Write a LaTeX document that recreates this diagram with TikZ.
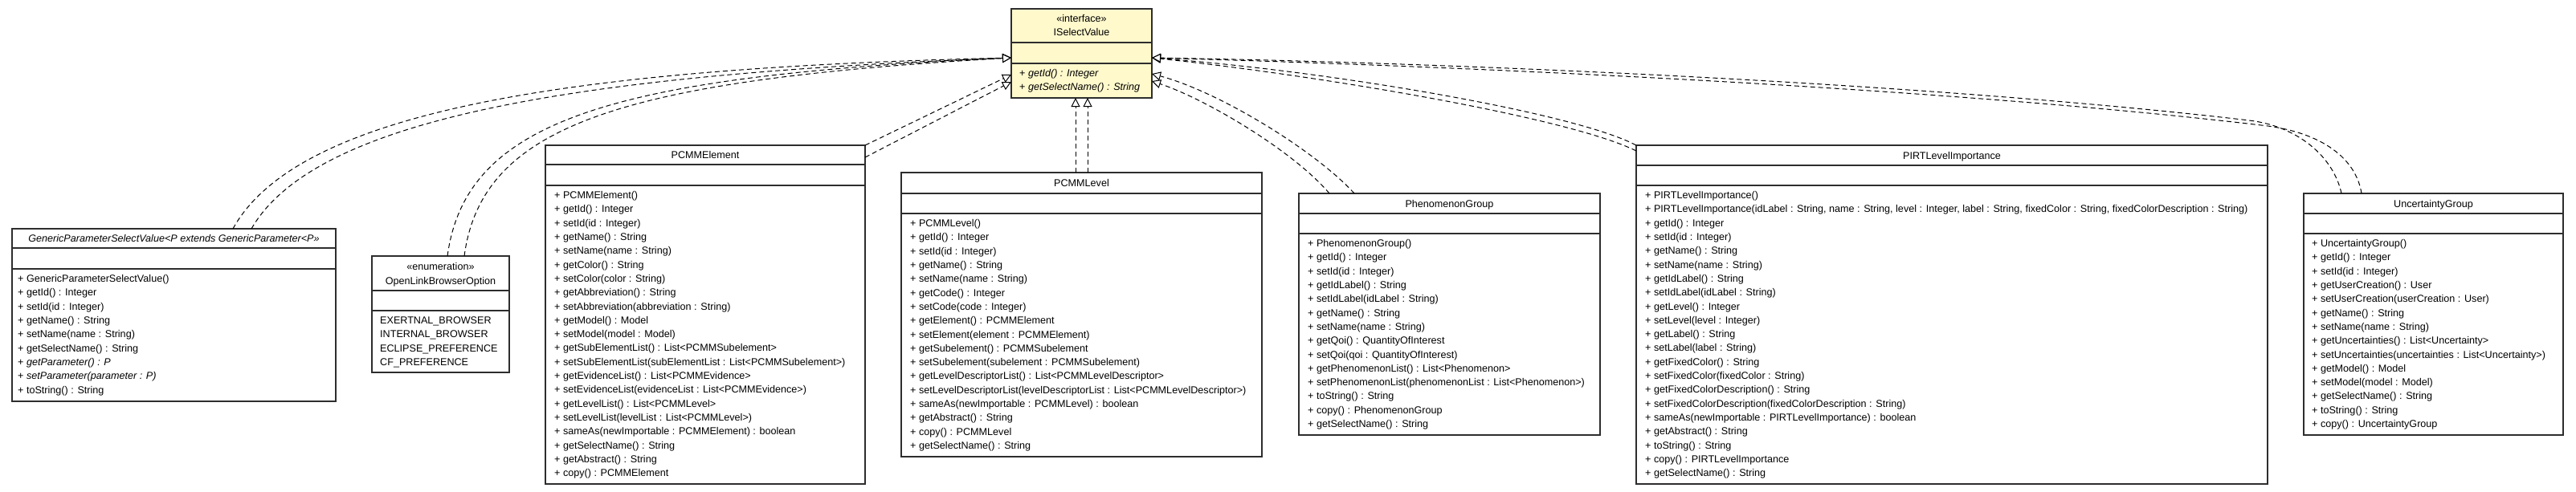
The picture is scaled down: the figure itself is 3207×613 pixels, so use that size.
\documentclass[tikz,border=0pt]{standalone}
\usepackage{fontspec}
\setmainfont{Liberation Sans}
\usetikzlibrary{arrows.meta}
\definecolor{ifill}{RGB}{255,249,204}
\definecolor{bord}{RGB}{45,45,45}
\tikzset{
 classbox/.style={draw=bord, line width=1.5pt, fill=white, anchor=north west, inner sep=0pt, outer sep=0pt},
 ifacebox/.style={classbox, fill=ifill},
 sepone/.style={draw=bord, line width=2pt},
 septwo/.style={draw=bord, line width=1.5pt},
 memb/.style={anchor=north west, align=left, inner sep=0pt, font=\fontsize{12.6}{17.3}\selectfont},
 hdr/.style={anchor=base, inner sep=0pt, font=\fontsize{12.6}{17.3}\selectfont},
 hdrtwo/.style={anchor=north, align=center, inner sep=0pt, font=\fontsize{12.6}{17.8}\selectfont},
 real/.style={draw=black, line width=1pt, dash pattern=on 6pt off 4pt, -{Triangle[length=11pt,width=11pt,fill=white]}},
}
\begin{document}
\begin{tikzpicture}[x=1pt,y=-1pt]
\fill[white] (0,0) rectangle (3207,613);
\useasboundingbox (0,0) rectangle (3207,613);

% ---------- ISelectValue ----------
\node[ifacebox, minimum width=175pt, minimum height=111pt] (isv) at (1259,11) {};
\draw[sepone] (1259,53) -- (1434,53);
\draw[septwo] (1259,79) -- (1434,79);
\node[hdrtwo] (isvh) at (1346.5,14.5) {\strut«interface»\\ISelectValue};
\node[memb] (isvm) at (1269,83.3) {\strut+ \textit{getId() : Integer}\\+ \textit{getSelectName() : String}};

% ---------- GenericParameterSelectValue ----------
\node[classbox, minimum width=403pt, minimum height=215pt] (gen) at (15,285) {};
\draw[sepone] (15,309) -- (418,309);
\draw[septwo] (15,335) -- (418,335);
\node[hdr] (genh) at (216.5,301.5) {\textit{GenericParameterSelectValue<P extends GenericParameter<P>>}};
\node[memb] (genm) at (22,339.3) {\strut+ GenericParameterSelectValue()\\
+ getId() : Integer\\
+ setId(id : Integer)\\
+ getName() : String\\
+ setName(name : String)\\
+ getSelectName() : String\\
+ \textit{getParameter() : P}\\
+ \textit{setParameter(parameter : P)}\\
+ toString() : String};

% ---------- OpenLinkBrowserOption ----------
\node[classbox, minimum width=171pt, minimum height=145pt] (enm) at (463,319) {};
\draw[sepone] (463,362) -- (634,362);
\draw[septwo] (463,387) -- (634,387);
\node[hdrtwo] (enmh) at (548.5,324) {\strut«enumeration»\\OpenLinkBrowserOption};
\node[memb] (enmm) at (473,391.3) {\strut EXERTNAL\_BROWSER\\
INTERNAL\_BROWSER\\
ECLIPSE\_PREFERENCE\\
CF\_PREFERENCE};

% ---------- PCMMElement ----------
\node[classbox, minimum width=398pt, minimum height=422pt] (pe) at (679,181) {};
\draw[sepone] (679,205) -- (1077,205);
\draw[septwo] (679,231) -- (1077,231);
\node[hdr] (peh) at (878,197.5) {PCMMElement};
\node[memb] (pem) at (690,235.3) {\strut+ PCMMElement()\\
+ getId() : Integer\\
+ setId(id : Integer)\\
+ getName() : String\\
+ setName(name : String)\\
+ getColor() : String\\
+ setColor(color : String)\\
+ getAbbreviation() : String\\
+ setAbbreviation(abbreviation : String)\\
+ getModel() : Model\\
+ setModel(model : Model)\\
+ getSubElementList() : List<PCMMSubelement>\\
+ setSubElementList(subElementList : List<PCMMSubelement>)\\
+ getEvidenceList() : List<PCMMEvidence>\\
+ setEvidenceList(evidenceList : List<PCMMEvidence>)\\
+ getLevelList() : List<PCMMLevel>\\
+ setLevelList(levelList : List<PCMMLevel>)\\
+ sameAs(newImportable : PCMMElement) : boolean\\
+ getSelectName() : String\\
+ getAbstract() : String\\
+ copy() : PCMMElement};

% ---------- PCMMLevel ----------
\node[classbox, minimum width=449pt, minimum height=354pt] (pl) at (1122,215) {};
\draw[sepone] (1122,241) -- (1571,241);
\draw[septwo] (1122,266) -- (1571,266);
\node[hdr] (plh) at (1346.5,232.5) {PCMMLevel};
\node[memb] (plm) at (1133,270.3) {\strut+ PCMMLevel()\\
+ getId() : Integer\\
+ setId(id : Integer)\\
+ getName() : String\\
+ setName(name : String)\\
+ getCode() : Integer\\
+ setCode(code : Integer)\\
+ getElement() : PCMMElement\\
+ setElement(element : PCMMElement)\\
+ getSubelement() : PCMMSubelement\\
+ setSubelement(subelement : PCMMSubelement)\\
+ getLevelDescriptorList() : List<PCMMLevelDescriptor>\\
+ setLevelDescriptorList(levelDescriptorList : List<PCMMLevelDescriptor>)\\
+ sameAs(newImportable : PCMMLevel) : boolean\\
+ getAbstract() : String\\
+ copy() : PCMMLevel\\
+ getSelectName() : String};

% ---------- PhenomenonGroup ----------
\node[classbox, minimum width=375pt, minimum height=301pt] (ph) at (1617,241) {};
\draw[sepone] (1617,266) -- (1992,266);
\draw[septwo] (1617,291) -- (1992,291);
\node[hdr] (phh) at (1804.5,258) {PhenomenonGroup};
\node[memb] (phm) at (1628,295.3) {\strut+ PhenomenonGroup()\\
+ getId() : Integer\\
+ setId(id : Integer)\\
+ getIdLabel() : String\\
+ setIdLabel(idLabel : String)\\
+ getName() : String\\
+ setName(name : String)\\
+ getQoi() : QuantityOfInterest\\
+ setQoi(qoi : QuantityOfInterest)\\
+ getPhenomenonList() : List<Phenomenon>\\
+ setPhenomenonList(phenomenonList : List<Phenomenon>)\\
+ toString() : String\\
+ copy() : PhenomenonGroup\\
+ getSelectName() : String};

% ---------- PIRTLevelImportance ----------
\node[classbox, minimum width=786pt, minimum height=422pt] (pi) at (2037,181) {};
\draw[sepone] (2037,206) -- (2823,206);
\draw[septwo] (2037,231) -- (2823,231);
\node[hdr] (pih) at (2430,198) {PIRTLevelImportance};
\node[memb] (pim) at (2048,235.3) {\strut+ PIRTLevelImportance()\\
+ PIRTLevelImportance(idLabel : String, name : String, level : Integer, label : String, fixedColor : String, fixedColorDescription : String)\\
+ getId() : Integer\\
+ setId(id : Integer)\\
+ getName() : String\\
+ setName(name : String)\\
+ getIdLabel() : String\\
+ setIdLabel(idLabel : String)\\
+ getLevel() : Integer\\
+ setLevel(level : Integer)\\
+ getLabel() : String\\
+ setLabel(label : String)\\
+ getFixedColor() : String\\
+ setFixedColor(fixedColor : String)\\
+ getFixedColorDescription() : String\\
+ setFixedColorDescription(fixedColorDescription : String)\\
+ sameAs(newImportable : PIRTLevelImportance) : boolean\\
+ getAbstract() : String\\
+ toString() : String\\
+ copy() : PIRTLevelImportance\\
+ getSelectName() : String};

% ---------- UncertaintyGroup ----------
\node[classbox, minimum width=323pt, minimum height=301pt] (un) at (2868,241) {};
\draw[sepone] (2868,266) -- (3191,266);
\draw[septwo] (2868,291) -- (3191,291);
\node[hdr] (unh) at (3029.5,258) {UncertaintyGroup};
\node[memb] (unm) at (2878,295.3) {\strut+ UncertaintyGroup()\\
+ getId() : Integer\\
+ setId(id : Integer)\\
+ getUserCreation() : User\\
+ setUserCreation(userCreation : User)\\
+ getName() : String\\
+ setName(name : String)\\
+ getUncertainties() : List<Uncertainty>\\
+ setUncertainties(uncertainties : List<Uncertainty>)\\
+ getModel() : Model\\
+ setModel(model : Model)\\
+ getSelectName() : String\\
+ toString() : String\\
+ copy() : UncertaintyGroup};

% ---------- connector end points ----------
\coordinate (isvL) at (1259,72);
\coordinate (isvLa) at (1259,93);
\coordinate (isvLb) at (1259,102);
\coordinate (isvR) at (1434,72);
\coordinate (isvRa) at (1434,92);
\coordinate (isvRb) at (1434,101);
\coordinate (isvBa) at (1339,122);
\coordinate (isvBb) at (1354,122);
\coordinate (genA) at (290,285);
\coordinate (genB) at (313,285);
\coordinate (enmA) at (557,319);
\coordinate (enmB) at (578,319);
\coordinate (peA) at (1077,181);
\coordinate (peB) at (1077,196);
\coordinate (plA) at (1339,215);
\coordinate (plB) at (1354,215);
\coordinate (phA) at (1686,241);
\coordinate (phB) at (1655,241);
\coordinate (piA) at (2037,181);
\coordinate (piB) at (2037,188);
\coordinate (unA) at (2915,241);
\coordinate (unB) at (2940,241);

% ---------- realizations ----------
\draw[real] (genA) .. controls (370,140) and (700,85) .. (isvL);
\draw[real] (genB) .. controls (392,148) and (712,93) .. (isvL);
\draw[real] (enmA) .. controls (580,150) and (760,95) .. (isvL);
\draw[real] (enmB) .. controls (600,155) and (775,100) .. (isvL);
\draw[real] (peA) -- (isvLa);
\draw[real] (peB) -- (isvLb);
\draw[real] (plA) -- (isvBa);
\draw[real] (plB) -- (isvBb);
\draw[real] (phA) .. controls (1640,190) and (1520,115) .. (isvRa);
\draw[real] (phB) .. controls (1612,190) and (1505,125) .. (isvRb);
\draw[real] (piA) .. controls (1960,140) and (1650,88) .. (isvR);
\draw[real] (piB) .. controls (1955,147) and (1650,95) .. (isvR);
\draw[real] (unA) .. controls (2905,195) and (2860,157) .. (2800,150) .. controls (2400,103) and (1800,78) .. (isvR);
\draw[real] (unB) .. controls (2932,192) and (2882,163) .. (2815,156) .. controls (2410,108) and (1800,82) .. (isvR);
\end{tikzpicture}
\end{document}
